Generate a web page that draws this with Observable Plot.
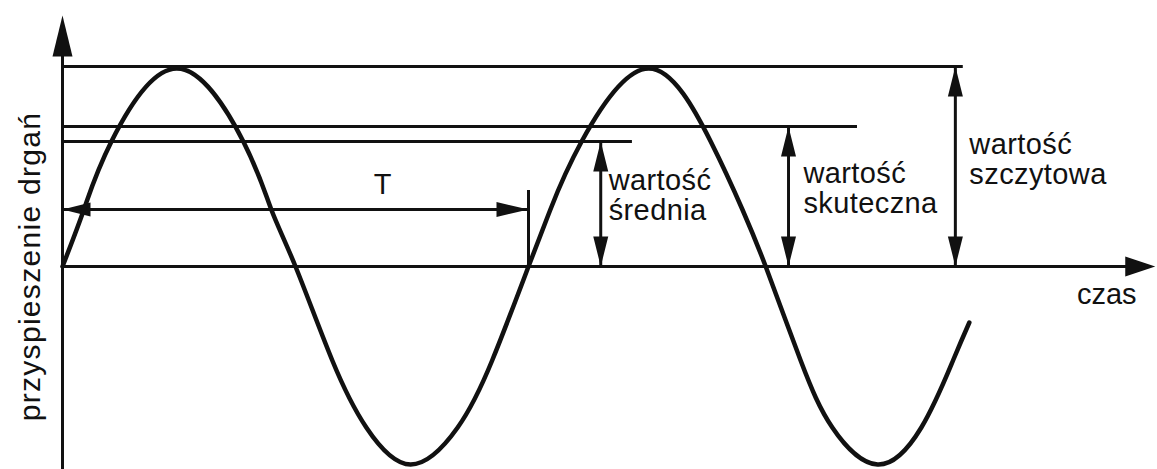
<!DOCTYPE html>
<html><head><meta charset="utf-8">
<script src="https://cdn.jsdelivr.net/npm/d3@7"></script>
<script src="https://cdn.jsdelivr.net/npm/@observablehq/plot@0.6"></script>
<style>
html,body{margin:0;padding:0;background:#fff;}
#chart svg{display:block;}
#chart svg .ylab text, #chart svg text.ylab{letter-spacing:1.3px;}
#chart svg .lab text, #chart svg text.lab{letter-spacing:0.4px;}
</style></head><body><div id="chart"></div>
<script>
// Sine wave (time in periods, acceleration normalised to peak)
const time  = [0, 0.046, 0.105, 0.245, 0.388, 0.448, 0.5, 0.579, 0.652, 0.747, 0.848, 0.922, 1.0, 1.047, 1.114, 1.258, 1.391, 1.459, 1.509, 1.584, 1.652, 1.749, 1.843, 1.911, 1.946];
const accel = [0, 0.285, 0.625, 0.99, 0.625, 0.285, 0, -0.47, -0.805, -0.99, -0.805, -0.47, 0, 0.285, 0.625, 0.99, 0.625, 0.285, 0, -0.47, -0.805, -0.99, -0.805, -0.47, -0.28];

// Reference levels: peak, RMS, mean
const levelValues = [1, 0.70, 0.625];
const levelEnds   = [1.933, 1.706, 1.223];
const levelArrowAt = [1.916, 1.558, 1.155];
const levelLabels = ["wartość\nszczytowa", "wartość\nskuteczna", "wartość\nśrednia"];
const labelT = [1.946, 1.590, 1.172];
const labelA = [0.415, 0.27, 0.235];

// Period marker
const period = 1;
const periodLevel = 0.285;
const periodTickTop = 0.38;
const periodLabel = "T";
const periodLabelT = 0.687;
const periodLabelA = 0.365;

// Axes
const axisTimeEnd = 2.345;
const axisAccelTop = 1.255;
const axisAccelBottom = -1.03;
const xLabel = "czas";
const xLabelT = 2.305, xLabelA = -0.185;
const yLabel = "przyspieszenie drgań";
const yLabelT = -0.049;

const ink = "#111";
const font = "'Liberation Sans', Arial, Helvetica, sans-serif";

function head(dx, dy, L, W) {
  return {draw(ctx) {
    const bx = -dx * L, by = -dy * L;
    const px = -dy * W / 2, py = dx * W / 2;
    ctx.moveTo(0, 0);
    ctx.lineTo(bx + px, by + py);
    ctx.lineTo(bx - px, by - py);
    ctx.closePath();
  }};
}
const upBig = head(0, -1, 41, 20);
const rightBig = head(1, 0, 30, 20);
const upS = head(0, -1, 30, 15);
const downS = head(0, 1, 30, 15);
const leftS = head(-1, 0, 28, 14);
const rightS = head(1, 0, 32, 15);

const idx = levelValues.map((_, i) => i);

const chart = Plot.plot({
  width: 1157,
  height: 469,
  margin: 0,
  x: {domain: [0, 1], range: [62, 528], axis: null},
  y: {domain: [-1, 1], range: [466, 66], axis: null},
  style: {fontFamily: font, background: "#fff", overflow: "visible"},
  marks: [
    // axes
    Plot.ruleX([0], {y1: axisAccelBottom, y2: axisAccelTop - 0.1, stroke: ink, strokeWidth: 3}),
    Plot.ruleY([0], {x1: 0, x2: axisTimeEnd - 0.03, stroke: ink, strokeWidth: 3}),
    Plot.dot([0], {x: 0, y: axisAccelTop, symbol: upBig, fill: ink, stroke: null}),
    Plot.dot([0], {x: axisTimeEnd, y: 0, symbol: rightBig, fill: ink, stroke: null}),
    // level lines
    Plot.ruleY(idx, {y: i => levelValues[i], x1: 0, x2: i => levelEnds[i], stroke: ink, strokeWidth: 3}),
    // double arrows
    Plot.ruleX(idx, {x: i => levelArrowAt[i], y1: 0, y2: i => levelValues[i], stroke: ink, strokeWidth: 3}),
    Plot.dot(idx, {x: i => levelArrowAt[i], y: i => levelValues[i], symbol: upS, fill: ink, stroke: null}),
    Plot.dot(idx, {x: i => levelArrowAt[i], y: 0, symbol: downS, fill: ink, stroke: null}),
    // period arrow
    Plot.ruleY([periodLevel], {x1: 0, x2: period, stroke: ink, strokeWidth: 3}),
    Plot.ruleX([period], {y1: 0, y2: periodTickTop, stroke: ink, strokeWidth: 3}),
    Plot.dot([0], {x: 0, y: periodLevel, symbol: leftS, fill: ink, stroke: null}),
    Plot.dot([0], {x: period, y: periodLevel, symbol: rightS, fill: ink, stroke: null}),
    // sine
    Plot.line(time.map((_, i) => i), {x: i => time[i], y: i => accel[i], curve: "natural", stroke: ink, strokeWidth: 4.5}),
    // labels
    Plot.text(idx, {x: i => labelT[i], y: i => labelA[i], text: i => levelLabels[i], textAnchor: "start", lineAnchor: "bottom", lineHeight: 1.03, fontSize: 29, fill: ink, className: "lab"}),
    Plot.text([periodLabel], {x: periodLabelT, y: periodLabelA, text: d => d, textAnchor: "middle", lineAnchor: "bottom", fontSize: 29, fill: ink}),
    Plot.text([xLabel], {x: xLabelT, y: xLabelA, text: d => d, textAnchor: "end", lineAnchor: "bottom", fontSize: 29, fill: ink}),
    Plot.text([yLabel], {x: yLabelT, y: 0, text: d => d, rotate: -90, textAnchor: "middle", lineAnchor: "bottom", fontSize: 30, fill: ink, className: "ylab"})
  ]
});
document.getElementById("chart").appendChild(chart);
</script>
</body></html>
